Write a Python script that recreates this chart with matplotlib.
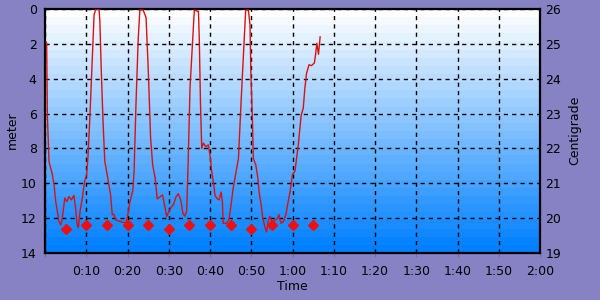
import matplotlib
matplotlib.use('Agg')
import matplotlib.pyplot as plt
import numpy as np

# dive profile, time in minutes, depth in meters
t_depth = [0.3, 0.4, 0.57, 0.97, 1.78, 2.2, 2.6, 3.4, 3.8, 4.2, 4.8, 5.3, 5.8, 6.4, 7.0, 7.4, 7.8,
           8.1, 8.5, 9.05, 9.6, 10.1, 10.4, 10.9, 11.5, 11.9, 12.3, 13.1, 13.3, 13.65, 14.1, 14.5,
           14.95, 15.5, 15.9, 16.3, 16.7, 17.1, 18.3, 19.6, 19.95, 20.6, 21.3, 21.6, 22.05, 22.6,
           23.0, 23.8, 24.5, 25.05, 25.6, 26.1, 26.7, 27.2, 27.9, 28.5, 29.1, 29.5, 29.9, 30.5,
           31.1, 31.8, 32.3, 32.9, 33.4, 33.9, 34.35, 34.75, 35.15, 35.8, 36.2, 37.2, 37.4, 37.7,
           38.0, 38.4, 39.0, 39.6, 40.0, 40.4, 40.8, 41.2, 41.6, 42.2, 42.7, 43.0, 43.2, 44.0,
           44.6, 45.1, 45.6, 46.2, 46.9, 47.5, 48.1, 48.65, 49.3, 49.7, 49.9, 50.3, 50.5, 51.1,
           51.6, 51.9, 52.4, 52.8, 53.3, 53.7, 54.1, 54.5, 55.1, 55.8, 56.4, 56.7, 57.2, 57.8,
           58.4, 58.8, 59.4, 60.0, 60.6, 61.0, 61.4, 62.1, 62.6, 63.0, 63.4, 64.0, 64.6, 65.3,
           65.6, 65.9, 66.3, 66.7]
depth = [1.9, 1.97, 6.1, 8.76, 9.5, 10.1, 11.06, 12.2, 12.4, 12.0, 10.85, 11.06, 10.77, 10.96, 10.7,
         11.4, 12.4, 12.55, 11.6, 10.85, 9.9, 9.5, 8.55, 6.1, 2.6, 0.34, 0.0, 0.0, 0.7, 3.6, 6.65,
         8.76, 9.34, 10.1, 10.67, 11.8, 11.8, 12.1, 12.2, 12.3, 12.0, 11.06, 10.4, 9.3, 5.5, 1.7,
         0.06, 0.06, 0.5, 3.6, 7.4, 8.95, 9.7, 10.9, 10.77, 10.67, 11.4, 11.9, 11.7, 11.4,
         11.25, 10.77, 10.6, 10.96, 11.7, 11.9, 11.6, 8.4, 4.55, 1.7, 0.06, 0.15, 1.7, 5.5,
         8.0, 7.7, 7.9, 7.8, 8.4, 9.3, 9.9, 10.67, 10.86, 10.96, 10.5, 11.06, 12.3, 12.3,
         12.1, 11.25, 10.3, 9.5, 8.57, 5.5, 2.6, 0.06, 0.06, 0.9, 3.6, 6.5, 8.57, 8.95,
         9.7, 10.5, 11.25, 12.0, 12.5, 12.8, 12.2, 11.9, 12.3, 12.1, 12.0, 11.8, 12.3, 12.2,
         11.8, 11.25, 10.5, 9.5, 9.3, 8.57, 7.8, 6.1, 5.7, 4.55, 3.7, 3.2, 3.25, 3.1,
         2.6, 1.97, 2.6, 1.6]

# water temperature samples
t_temp = [5, 10, 15, 20, 25, 30, 35, 40, 45, 50, 55, 60, 65]
temp = [19.7, 19.8, 19.8, 19.8, 19.8, 19.7, 19.8, 19.8, 19.8, 19.7, 19.8, 19.8, 19.8]

xticks = list(range(0, 121, 10))
xlabels = [''] + ['%d:%02d' % (m // 60, m % 60) for m in xticks[1:]]

bg = '#8682c4'
fig = plt.figure(figsize=(6, 3), dpi=100, facecolor=bg)
ax = fig.add_axes([0.075, 0.157, 0.825, 0.813])

# banded white -> blue background
n = 30
frac = np.linspace(0, 1, n).reshape(-1, 1)
top = np.array([1.0, 1.0, 1.0])
bot = np.array([0.0, 0.5, 1.0])
grad = (top + (bot - top) * frac).reshape(n, 1, 3)
ax.imshow(grad, aspect='auto', extent=[0, 120, 14, 0], interpolation='nearest', zorder=0)

ax.plot(t_depth, depth, color='#dd1010', lw=1.0, zorder=3)
ax.set_xlim(0, 120)
ax.set_ylim(14, 0)
ax.set_xticks(xticks)
ax.set_xticklabels(xlabels)
ax.set_yticks(range(0, 15, 2))
ax.grid(True, color='black', ls=(0, (3, 3)), lw=1.0)
ax.tick_params(axis='x', length=3, color='#7070a0', labelsize=9, pad=6)
ax.tick_params(axis='y', length=0, labelsize=9, pad=6)
for s in ax.spines.values():
    s.set_linewidth(1.6)
    s.set_color('black')
ax.set_xlabel('Time', fontsize=9, labelpad=1)

ax2 = ax.twinx()
ax2.plot(t_temp, temp, 'D', color='#ee1010', ms=5.5, zorder=4)
ax2.set_ylim(19, 26)
ax2.set_yticks(range(19, 27))
ax2.tick_params(axis='y', length=0, labelsize=9, pad=4)
for s in ax2.spines.values():
    s.set_visible(False)

# axis titles placed by hand, as in the reference
fig.text(0.02, 0.565, 'meter', rotation=90, ha='center', va='center', fontsize=9)
fig.text(0.958, 0.565, 'Centigrade', rotation=90, ha='center', va='center', fontsize=9)

fig.savefig('out.png', dpi=100, facecolor=bg)
